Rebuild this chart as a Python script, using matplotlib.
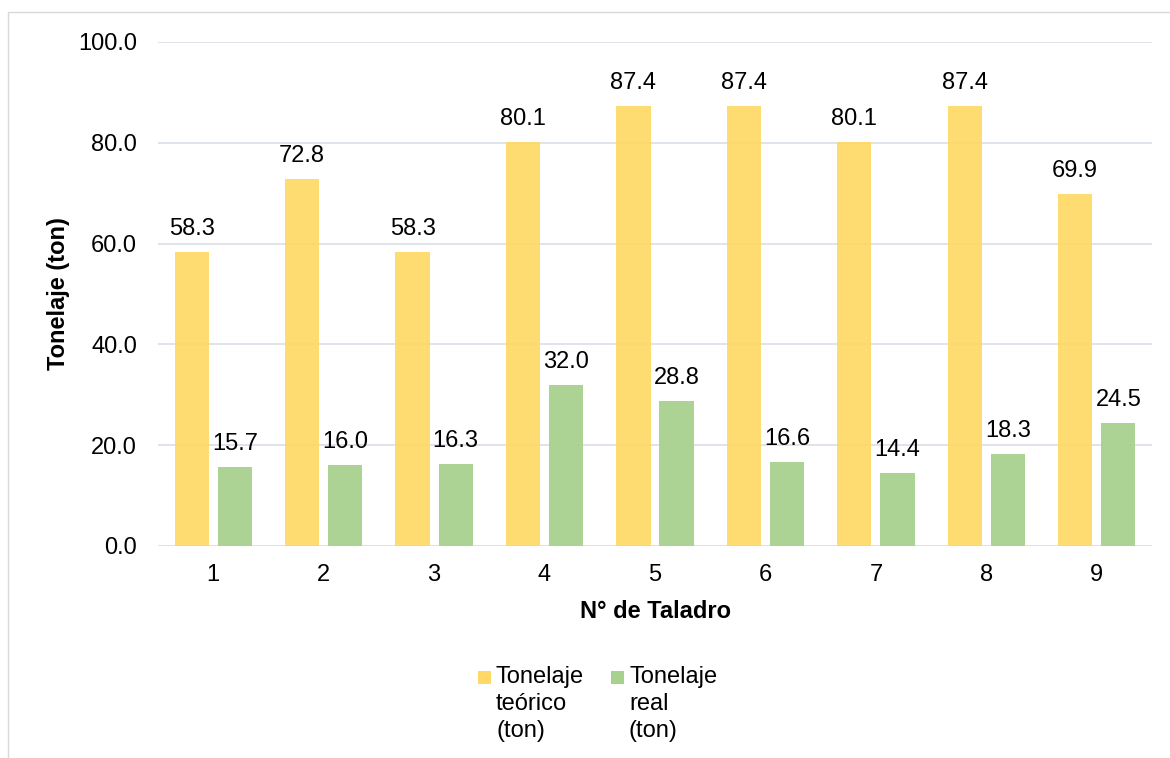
import matplotlib
matplotlib.use("Agg")
import matplotlib.pyplot as plt
from matplotlib.patches import Rectangle
import numpy as np

# Data
taladros = ["1", "2", "3", "4", "5", "6", "7", "8", "9"]
tonelaje_teorico = [58.3, 72.8, 58.3, 80.1, 87.4, 87.4, 80.1, 87.4, 69.9]
tonelaje_real = [15.7, 16.0, 16.3, 32.0, 28.8, 16.6, 14.4, 18.3, 24.5]
y_ticks = [0, 20, 40, 60, 80, 100]

GOLD = "#FFD966"
GREEN = "#A9D18E"
GRID = "#DCE1E8"
FONT = "Liberation Sans"
FS = 17

plt.rcParams["font.family"] = [FONT, "DejaVu Sans"]

W, H = 1170, 758
fig = plt.figure(figsize=(W / 100, H / 100), dpi=100)

def fx(px):
    return px / W

def fy(py):
    return 1 - py / H

# outer chart frame
fig.patches.append(Rectangle((fx(8), -0.1), 1.2, fy(11.5) + 0.1,
                             transform=fig.transFigure, fill=False,
                             edgecolor="#D9D9D9", linewidth=1.0))

ax = fig.add_axes([fx(158), fy(546), fx(1152) - fx(158), fy(42) - fy(546)])

x = np.arange(len(taladros))
bw = 0.31
off = 0.195
b1 = ax.bar(x - off, tonelaje_teorico, bw, color=GOLD, alpha=0.92, zorder=3, linewidth=0)
b2 = ax.bar(x + off, tonelaje_real, bw, color=GREEN, alpha=0.95, zorder=3, linewidth=0)

for bars, vals in ((b1, tonelaje_teorico), (b2, tonelaje_real)):
    for rect, v in zip(bars, vals):
        ax.annotate(f"{v:.1f}", (rect.get_x() + rect.get_width() / 2, v),
                    xytext=(0, 17), textcoords="offset pixels",
                    ha="center", va="baseline", fontsize=FS, color="#000000")

ax.set_xlim(-0.5, len(taladros) - 0.5)
ax.set_ylim(0, 100)
ax.set_yticks(y_ticks)
ax.set_yticklabels([f"{t:.1f}" for t in y_ticks])
ax.set_xticks(x)
ax.set_xticklabels(taladros)
ax.tick_params(axis="both", length=0, labelsize=FS, colors="#000000")
ax.tick_params(axis="y", pad=15)
ax.tick_params(axis="x", pad=13)
ax.yaxis.grid(True, color=GRID, linewidth=1.3, zorder=1)
ax.set_axisbelow(True)
for s in ax.spines.values():
    s.set_visible(False)
ax.axhline(0, color=GRID, linewidth=1.3, zorder=2)

fig.text(fx(58), fy(294), "Tonelaje (ton)", rotation=90, ha="center", va="center",
         fontsize=FS, fontweight="bold")
fig.text(fx(655), fy(611), "N° de Taladro", ha="center", va="center",
         fontsize=FS, fontweight="bold")

# legend
legend_items = [(GOLD, "Tonelaje\nteórico\n(ton)", 478), (GREEN, "Tonelaje\nreal\n(ton)", 611)]
for col, lab, px in legend_items:
    fig.patches.append(Rectangle((fx(px), fy(684)), fx(13), fy(671) - fy(684),
                                 transform=fig.transFigure, facecolor=col,
                                 edgecolor="none"))
    fig.text(fx(px + 18), fy(666), lab, ha="left", va="top",
             fontsize=FS, linespacing=1.3)

fig.savefig("out.png", dpi=100)
